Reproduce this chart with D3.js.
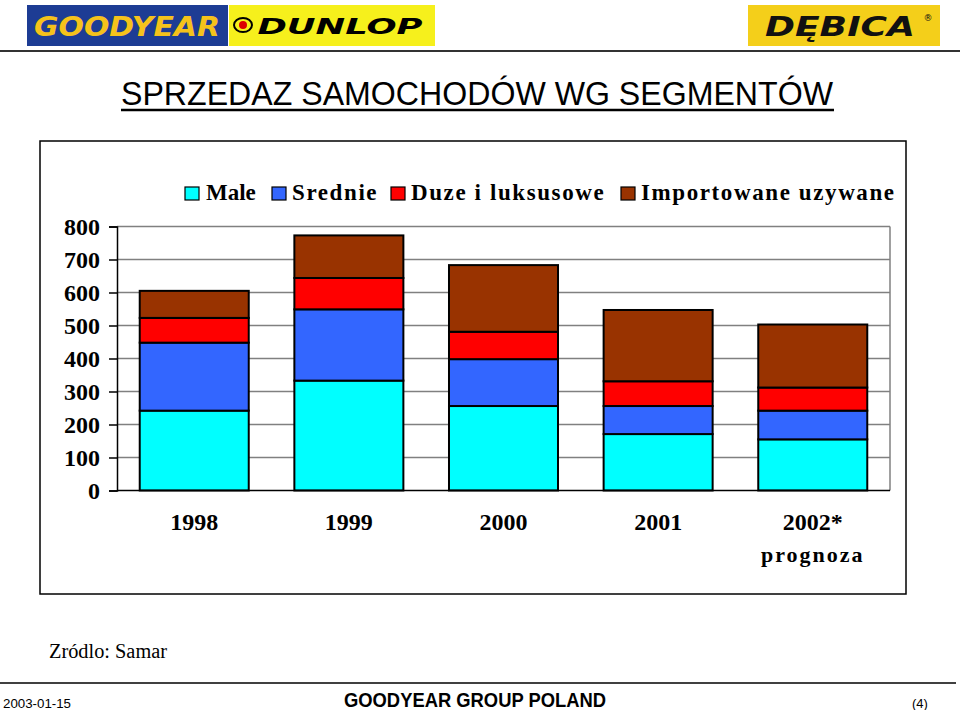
<!DOCTYPE html>
<html><head><meta charset="utf-8">
<script src="https://cdn.jsdelivr.net/npm/d3@7"></script>
<style>body{margin:0;background:#fff}svg{display:block}</style>
</head><body>
<script>
const years = ["1998","1999","2000","2001","2002*"];
const seriesNames = ["Male","Srednie","Duze i luksusowe","Importowane uzywane"];
const male = [242, 333, 256, 171, 155];
const srednie = [206, 216, 142, 85, 87];
const duze = [75, 95, 83, 75, 70];
const importowane = [82, 129, 202, 216, 191];
const yTicks = [0,100,200,300,400,500,600,700,800];
const colors = ["#00ffff","#3366ff","#ff0000","#993300"];

const W = 960, H = 710;
const svg = d3.select("body").append("svg").attr("width", W).attr("height", H);

// header logos
const hdr = svg.append("g");
hdr.append("rect").attr("x",27).attr("y",5).attr("width",201).attr("height",41).attr("fill","#1d3c94");
hdr.append("text").attr("x",127).attr("y",36).attr("text-anchor","middle")
  .attr("font-family","DejaVu Sans").attr("font-weight","bold").attr("font-style","italic")
  .attr("font-size",27).attr("fill","#f5c21b").attr("textLength",186).attr("lengthAdjust","spacingAndGlyphs").text("GOODYEAR");
hdr.append("rect").attr("x",229).attr("y",5).attr("width",206).attr("height",41).attr("fill","#f6f01c");
hdr.append("ellipse").attr("cx",243).attr("cy",25).attr("rx",9).attr("ry",7).attr("fill","none").attr("stroke","#000").attr("stroke-width",2);
hdr.append("circle").attr("cx",243).attr("cy",25).attr("r",4).attr("fill","#d00");
hdr.append("text").attr("x",340).attr("y",34).attr("text-anchor","middle")
  .attr("font-family","DejaVu Sans").attr("font-weight","bold").attr("font-style","italic")
  .attr("font-size",22).attr("fill","#000").attr("textLength",165).attr("lengthAdjust","spacingAndGlyphs").text("DUNLOP");
hdr.append("rect").attr("x",748).attr("y",5).attr("width",192).attr("height",41).attr("fill","#f4cf1a");
hdr.append("text").attr("x",840).attr("y",36).attr("text-anchor","middle")
  .attr("font-family","DejaVu Sans").attr("font-weight","bold").attr("font-style","italic")
  .attr("font-size",26).attr("fill","#111").attr("textLength",150).attr("lengthAdjust","spacingAndGlyphs").text("DĘBICA");
hdr.append("text").attr("x",928).attr("y",21).attr("text-anchor","middle")
  .attr("font-family","DejaVu Sans").attr("font-size",9).attr("fill","#111").text("®");
svg.append("line").attr("x1",0).attr("x2",960).attr("y1",51).attr("y2",51).attr("stroke","#333").attr("stroke-width",2);

// title
svg.append("text").attr("x",121).attr("y",105)
  .attr("font-family","Liberation Sans, Arial").attr("font-size",34).attr("fill","#000")
  .attr("textLength",712).attr("lengthAdjust","spacingAndGlyphs")
  .text("SPRZEDAZ SAMOCHODÓW WG SEGMENTÓW");
svg.append("line").attr("x1",121).attr("x2",834).attr("y1",110).attr("y2",110).attr("stroke","#000").attr("stroke-width",2.5);

// frame
svg.append("rect").attr("x",40).attr("y",141).attr("width",866).attr("height",453)
  .attr("fill","none").attr("stroke","#000").attr("stroke-width",1.5);

// chart
const plotL = 117, plotR = 890, plotT = 226.5, plotB = 490.5;
const x = d3.scaleBand().domain(years).range([plotL, plotR]).paddingInner(0.295).paddingOuter(0.147);
const y = d3.scaleLinear().domain([0,800]).range([plotB, plotT]);

const g = svg.append("g");
// gridlines
g.selectAll("line.grid").data(yTicks.filter(d=>d>0)).join("line")
  .attr("x1",plotL).attr("x2",plotR).attr("y1",d=>y(d)).attr("y2",d=>y(d))
  .attr("stroke","#808080").attr("stroke-width",1.5);
g.append("line").attr("x1",plotR).attr("x2",plotR).attr("y1",plotT).attr("y2",plotB).attr("stroke","#808080").attr("stroke-width",1.5);

// stacked bars
const table = years.map((yr,i)=>({year:yr, Male:male[i], Srednie:srednie[i], "Duze i luksusowe":duze[i], "Importowane uzywane":importowane[i]}));
const stack = d3.stack().keys(seriesNames)(table);
stack.forEach((s,si)=>{
  g.selectAll(null).data(s).join("rect")
    .attr("x",d=>x(d.data.year)).attr("width",x.bandwidth())
    .attr("y",d=>y(d[1])).attr("height",d=>y(d[0])-y(d[1]))
    .attr("fill",colors[si]).attr("stroke","#000").attr("stroke-width",2);
});

// y axis
const yAxis = d3.axisLeft(y).tickValues(yTicks).tickSize(8).tickPadding(9);
const ya = g.append("g").attr("transform",`translate(${plotL},0)`).call(yAxis);
ya.select(".domain").attr("stroke","#000").attr("stroke-width",1.5);
ya.selectAll(".tick line").attr("stroke","#000").attr("stroke-width",1.5);
ya.selectAll(".tick text").attr("font-family","Liberation Serif, Times New Roman").attr("font-weight","bold")
  .attr("font-size",24).attr("fill","#000").attr("dy","0.33em");

// x axis
const xAxis = d3.axisBottom(x).tickSize(0).tickPadding(0);
const xa = g.append("g").attr("transform",`translate(0,${plotB})`).call(xAxis);
xa.select(".domain").attr("stroke","#000").attr("stroke-width",1.5).attr("d",`M${plotL},0H${plotR}`);
xa.selectAll(".tick text").attr("font-family","Liberation Serif, Times New Roman").attr("font-weight","bold")
  .attr("font-size",24).attr("fill","#000").attr("y",39).attr("dy",0);
xa.selectAll(".tick").filter(d=>d==="2002*").append("text")
  .attr("y",71).attr("text-anchor","middle").attr("font-family","Liberation Serif, Times New Roman")
  .attr("font-weight","bold").attr("font-size",22).attr("letter-spacing",2).attr("fill","#000").text("prognoza");

// legend
const legX = [185, 272, 391, 621];
const leg = svg.append("g").selectAll("g").data(seriesNames).join("g")
  .attr("transform",(d,i)=>`translate(${legX[i]},187)`);
leg.append("rect").attr("width",14).attr("height",13).attr("fill",(d,i)=>colors[i]).attr("stroke","#000").attr("stroke-width",1.2);
leg.append("text").attr("x",(d,i)=>i===0?21:20).attr("y",13)
  .attr("font-family","Liberation Serif, Times New Roman").attr("font-weight","bold").attr("font-size",23)
  .attr("letter-spacing",(d,i)=>i===0?0:1.6).attr("fill","#000").text(d=>d);

// source
svg.append("text").attr("x",49).attr("y",658).attr("font-family","Liberation Serif, Times New Roman")
  .attr("font-size",20).attr("fill","#000").attr("textLength",118).attr("lengthAdjust","spacingAndGlyphs").text("Zródlo: Samar");

// footer
svg.append("line").attr("x1",0).attr("x2",956).attr("y1",683).attr("y2",683).attr("stroke","#000").attr("stroke-width",1.5);
svg.append("text").attr("x",3).attr("y",708).attr("font-family","Liberation Sans, Arial").attr("font-size",13)
  .attr("fill","#000").attr("textLength",68).attr("lengthAdjust","spacingAndGlyphs").text("2003-01-15");
svg.append("text").attr("x",475).attr("y",707).attr("text-anchor","middle").attr("font-family","Liberation Sans, Arial")
  .attr("font-size",21).attr("font-weight","bold").attr("fill","#000").attr("textLength",262).attr("lengthAdjust","spacingAndGlyphs").text("GOODYEAR GROUP POLAND");
svg.append("text").attr("x",912).attr("y",708).attr("font-family","Liberation Sans, Arial").attr("font-size",13)
  .attr("fill","#000").text("(4)");
</script>
</body></html>
